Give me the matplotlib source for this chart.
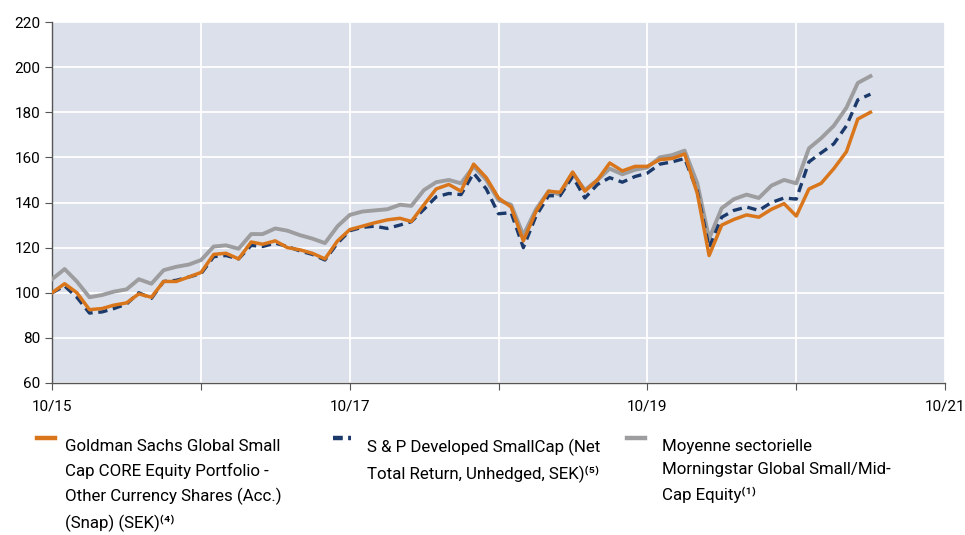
import pandas as pd
import matplotlib.pyplot as plt
from matplotlib.lines import Line2D

plt.rcParams['font.family'] = ['Roboto', 'DejaVu Sans']

# monthly index, 10/15 .. 04/21
dates = pd.date_range('2015-10-01', periods=67, freq='MS')

fund = [100, 104, 100, 92.5, 93, 94.5, 95.5, 99.5, 98, 105, 105, 107,
        109, 117, 117.5, 115, 122.5, 121.5, 123, 120, 119, 117.5, 115, 123,
        128, 129.5, 131, 132.3, 133, 131.6, 139, 146, 148, 145, 157, 151,
        142, 138, 123, 136, 145, 144.5, 153.5, 145, 150, 157.5, 154, 156,
        156, 159, 159.5, 161.5, 144, 116.5, 130, 132.5, 134.5, 133.5, 137, 139.5,
        134, 146, 148.5, 155, 162.5, 177, 180]

index = [100, 103, 98, 91, 91.5, 93, 95, 100, 97.5, 105, 105.5, 107,
         108.5, 116, 116.5, 115, 121, 120.5, 122, 120.5, 118.5, 117, 114.5, 122,
         127.5, 129, 129.5, 128.5, 130, 131.5, 137, 142.5, 144, 143.5, 153, 146,
         135, 135.5, 120, 134, 143, 143, 151.5, 142, 148, 151, 149, 151.5,
         153, 157, 158, 159.5, 145, 120, 133.5, 136.5, 138, 136.5, 140, 142,
         141.5, 158, 162, 166, 174, 185.5, 188]

sector = [106, 110.5, 105, 98, 99, 100.5, 101.5, 106, 104, 110, 111.5, 112.5,
          114.5, 120.5, 121, 119.5, 126, 126, 128.5, 127.5, 125.5, 124, 122, 129.5,
          134.5, 136, 136.5, 137, 139, 138.5, 145.5, 149, 150, 148.5, 156, 150,
          141, 139, 125.5, 137, 145, 143.5, 153, 145.5, 150, 155, 152.5, 154.5,
          155.5, 160, 161, 163, 148.5, 124, 137.5, 141.5, 143.5, 142, 147.5, 150,
          148.5, 164, 168.5, 174, 182, 193, 196]

labels = ["Goldman Sachs Global Small\nCap CORE Equity Portfolio -\nOther Currency Shares (Acc.)\n(Snap) (SEK)⁽⁴⁾",
          "S & P Developed SmallCap (Net\nTotal Return, Unhedged, SEK)⁽⁵⁾",
          "Moyenne sectorielle\nMorningstar Global Small/Mid-\nCap Equity⁽¹⁾"]

orange = '#d9761c'
navy = '#1b3a6b'
grey = '#9d9d9f'

fig = plt.figure(figsize=(9.65, 5.35), dpi=100)
ax = fig.add_axes([52 / 965, 1 - 383 / 535, 893 / 965, 361 / 535])
ax.set_facecolor('#dbe0ea')

ax.plot(dates, sector, color=grey, lw=2.8, zorder=3)
ax.plot(dates, index, color=navy, lw=2.4, dashes=(2.8, 1.7), zorder=4)
ax.plot(dates, fund, color=orange, lw=2.5, zorder=5)

ax.set_xlim(pd.Timestamp('2015-10-01'), pd.Timestamp('2021-10-01'))
ax.set_ylim(60, 220)
ax.set_yticks(range(60, 221, 20))
years = pd.date_range('2015-10-01', '2021-10-01', freq='12MS')
ax.set_xticks(years)
ax.set_xticklabels([d.strftime('%m/%y') if i % 2 == 0 else '' for i, d in enumerate(years)])

ax.grid(True, color='white', lw=1.3)
ax.set_axisbelow(True)
for s in ['top', 'right']:
    ax.spines[s].set_visible(False)
for s in ['left', 'bottom']:
    ax.spines[s].set_color('#555555')
    ax.spines[s].set_linewidth(1.0)
ax.tick_params(axis='both', colors='#555555', labelcolor='black', labelsize=11, length=5)
ax.tick_params(axis='x', pad=7)

# legend below the chart, drawn by hand
pos = [(37, 65), (333, 367), (627, 662)]
styles = [dict(color=orange), dict(color=navy, dashes=(2.2, 1.2)), dict(color=grey)]
for (hx, tx), st, lab in zip(pos, styles, labels):
    fig.add_artist(Line2D([hx / 965, (hx + 18) / 965], [1 - 438 / 535] * 2,
                          lw=3.2, transform=fig.transFigure, **st))
    fig.text(tx / 965, 1 - 439 / 535, lab, ha='left', va='top', fontsize=12.2,
             linespacing=1.68)

fig.savefig('out.png', dpi=100)
